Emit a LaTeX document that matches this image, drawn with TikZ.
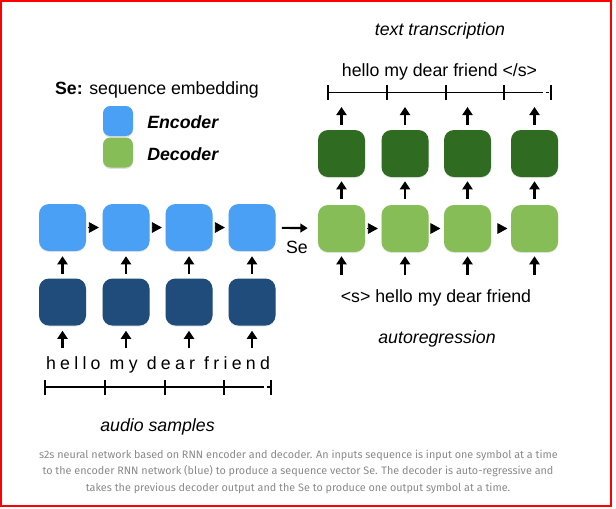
\documentclass[tikz,border=0pt]{standalone}
\usepackage{fontspec}
\setmainfont{Liberation Sans}
\newfontfamily\capfont{Fira Sans}
\usetikzlibrary{arrows.meta,shadows}
\definecolor{encl}{HTML}{4AA0F5}
\definecolor{encd}{HTML}{1F4C7B}
\definecolor{decl}{HTML}{86BD56}
\definecolor{decd}{HTML}{2F6C22}
\definecolor{capgray}{HTML}{8A8A8A}
\begin{document}
\begin{tikzpicture}[x=0.75pt,y=-0.75pt,
  box/.style={rounded corners=7.5pt, minimum width=35.25pt, minimum height=35.25pt, inner sep=0pt,
    drop shadow={opacity=0.18, shadow xshift=0pt, shadow yshift=-0.8pt}},
  lbox/.style={rounded corners=5.5pt, minimum width=22.5pt, minimum height=22.5pt, inner sep=0pt,
    drop shadow={opacity=0.25, shadow xshift=0pt, shadow yshift=-1pt}},
  txt/.style={font=\fontsize{13.3}{15}\selectfont, inner sep=0pt},
  itxt/.style={font=\fontsize{13.3}{15}\selectfont\itshape, inner sep=0pt},
  varr/.style={line width=2.1pt, -{Triangle[length=6pt,width=7.5pt]}},
  harr/.style={line width=0.6pt, -{Triangle[length=7.5pt,width=8pt]}},
  sarr/.style={line width=1.6pt, -{Triangle[length=5.5pt,width=6.5pt]}},
  ruler/.style={line width=0.8pt},
  tick/.style={line width=1.1pt}
]
\useasboundingbox (0,0) rectangle (616,508);
\fill[white] (0,0) rectangle (616,508);
\draw[red, line width=1.5pt] (1,1) rectangle (611,506);

% legend
\node[txt] (leg) at (157,90) {\textbf{Se:} sequence embedding};
\node[lbox, fill=encl] (lenc) at (118,121) {};
\node[lbox, fill=decl] (ldec) at (118,152.5) {};
\node[txt, anchor=west, font=\fontsize{13.3}{15}\selectfont\bfseries\itshape] (lenct) at (147,122) {Encoder};
\node[txt, anchor=west, font=\fontsize{13.3}{15}\selectfont\bfseries\itshape] (ldect) at (147,154) {Decoder};

% encoder
\foreach \i/\x in {1/62.5,2/126,3/189,4/252}{
  \node[box, fill=encl] (et\i) at (\x,227.5) {};
  \node[box, fill=encd] (eb\i) at (\x,302) {};
  \coordinate (in\i) at (\x,348);
  \draw[varr, shorten <=3pt, shorten >=3.75pt] (eb\i) -- (et\i);
  \draw[varr, shorten >=3.75pt] (in\i) -- (eb\i);
}
\foreach \i/\j in {1/2,2/3,3/4}{
  \draw[harr, shorten <=1.5pt, shorten >=2.5pt] (et\i) -- (et\j);
}

% decoder
\foreach \i/\x in {1/341.5,2/405,3/467.5,4/534.5}{
  \node[box, fill=decl] (dl\i) at (\x,228.5) {};
  \node[box, fill=decd] (dd\i) at (\x,153.5) {};
  \coordinate (din\i) at (\x,275);
  \coordinate (dout\i) at (\x,107);
  \draw[varr, shorten >=3pt] (din\i) -- (dl\i);
  \draw[varr, shorten <=4.5pt, shorten >=3pt] (dl\i) -- (dd\i);
  \draw[varr, shorten <=3.75pt] (dd\i) -- (dout\i);
}
\foreach \i/\j/\s in {1/2/1.5pt,2/3/1.5pt,3/4/6pt}{
  \draw[harr, shorten <=\s, shorten >=2.5pt] (dl\i) -- (dl\j);
}

% Se arrow
\draw[sarr, shorten <=4.5pt, shorten >=7.5pt] (et4) -- (dl1);
\node[txt] (se) at (297,247) {Se};

% texts
\node[itxt] (tt) at (440,31) {text transcription};
\node[txt] (outtxt) at (439.5,72) {hello my dear friend </s>};
\node[txt] (intxt) at (436,298) {<s> hello my dear friend};
\node[itxt] (ar) at (437,339) {autoregression};
\node[txt, font=\fontsize{13.3}{15}\selectfont\addfontfeature{LetterSpace=24}] (audio) at (158,365) {hello my dear friend};
\node[itxt] (as) at (157.5,427) {audio samples};

% rulers
\draw[ruler] (328,92.5) -- (543,92.5);
\draw[ruler] (545.5,92.5) -- (549,92.5);
\foreach \x in {328,387,446,504,551}{\draw[tick] (\x,85) -- (\x,100);}
\draw[ruler] (45,387) -- (264,387);
\draw[ruler] (266.5,387) -- (270,387);
\foreach \x in {45,105,165,224,271}{\draw[tick] (\x,380) -- (\x,395);}

% caption
\node[inner sep=0pt, text=capgray, font=\capfont\fontsize{8.1}{12}\selectfont] (cap1) at (298.5,455) {s2s neural network based on RNN encoder and decoder. An inputs sequence is input one symbol at a time};
\node[inner sep=0pt, text=capgray, font=\capfont\fontsize{8.1}{12}\selectfont] (cap2) at (298,471) {to the encoder RNN network (blue) to produce a sequence vector Se. The decoder is auto-regressive and};
\node[inner sep=0pt, text=capgray, font=\capfont\fontsize{8.1}{12}\selectfont] (cap3) at (298,488) {takes the previous decoder output and the Se to produce one output symbol at a time.};
\end{tikzpicture}
\end{document}
